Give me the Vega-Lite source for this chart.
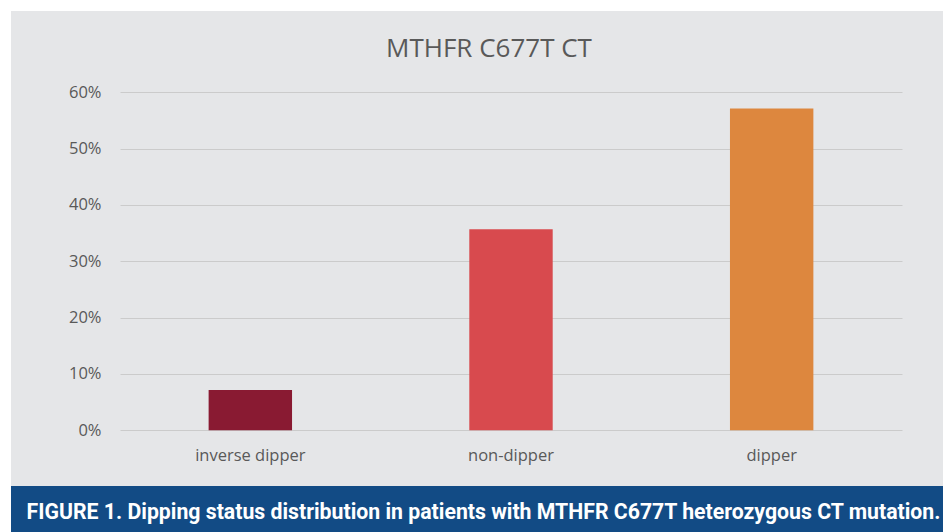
{
  "$schema": "https://vega.github.io/schema/vega-lite/v6.json",
  "background": "#ffffff",
  "padding": {"left": 11, "top": 11, "right": 0, "bottom": 0},
  "spacing": 0,
  "config": {"view": {"stroke": null}, "font": "Open Sans"},
  "vconcat": [
    {
      "width": 932,
      "height": 475,
      "view": {"fill": "#e5e6e8", "stroke": null},
      "title": {
        "text": "MTHFR C677T CT",
        "font": "Open Sans",
        "fontSize": 26,
        "fontWeight": "normal",
        "color": "#595959",
        "anchor": "middle",
        "frame": "group",
        "dx": 12,
        "baseline": "alphabetic",
        "offset": -72
      },
      "data": {
        "values": [
          {"status": "inverse dipper", "pct": 0.0714},
          {"status": "non-dipper", "pct": 0.3571},
          {"status": "dipper", "pct": 0.5714}
        ]
      },
      "mark": {"type": "bar"},
      "encoding": {
        "x": {
          "field": "status",
          "type": "nominal",
          "sort": null,
          "scale": {"range": [109, 891], "paddingInner": 0.68, "paddingOuter": 0.34},
          "axis": {
            "title": null,
            "labelAngle": 0,
            "domain": false,
            "ticks": false,
            "offset": -55.7,
            "labelFont": "Open Sans",
            "labelFontSize": 16.5,
            "labelColor": "#595959",
            "labelPadding": 17
          }
        },
        "y": {
          "field": "pct",
          "type": "quantitative",
          "scale": {"domain": [0, 0.6], "range": [419.3, 81.3]},
          "axis": {
            "values": [0, 0.1, 0.2, 0.3, 0.4, 0.5, 0.6],
            "format": ".0%",
            "domain": false,
            "ticks": false,
            "offset": -109,
            "labelFont": "Open Sans",
            "labelFontSize": 16.5,
            "labelColor": "#595959",
            "labelPadding": 19,
            "gridColor": "#cbcbcb",
            "gridWidth": 1.2,
            "title": null
          }
        },
        "color": {
          "field": "status",
          "type": "nominal",
          "scale": {
            "domain": ["inverse dipper", "non-dipper", "dipper"],
            "range": ["#891a32", "#d84a4e", "#dd873e"]
          },
          "legend": null
        }
      }
    },
    {
      "width": 932,
      "height": 46,
      "view": {"fill": "#124b85", "stroke": null},
      "data": {
        "values": [
          {"caption": "FIGURE 1. Dipping status distribution in patients with MTHFR C677T heterozygous CT mutation."}
        ]
      },
      "mark": {
        "type": "text",
        "font": "Roboto",
        "fontWeight": "bold",
        "fontSize": 21.25,
        "color": "#ffffff",
        "align": "center",
        "baseline": "alphabetic",
        "dx": 6.5,
        "dy": 10
      },
      "encoding": {"text": {"field": "caption", "type": "nominal"}}
    }
  ]
}
